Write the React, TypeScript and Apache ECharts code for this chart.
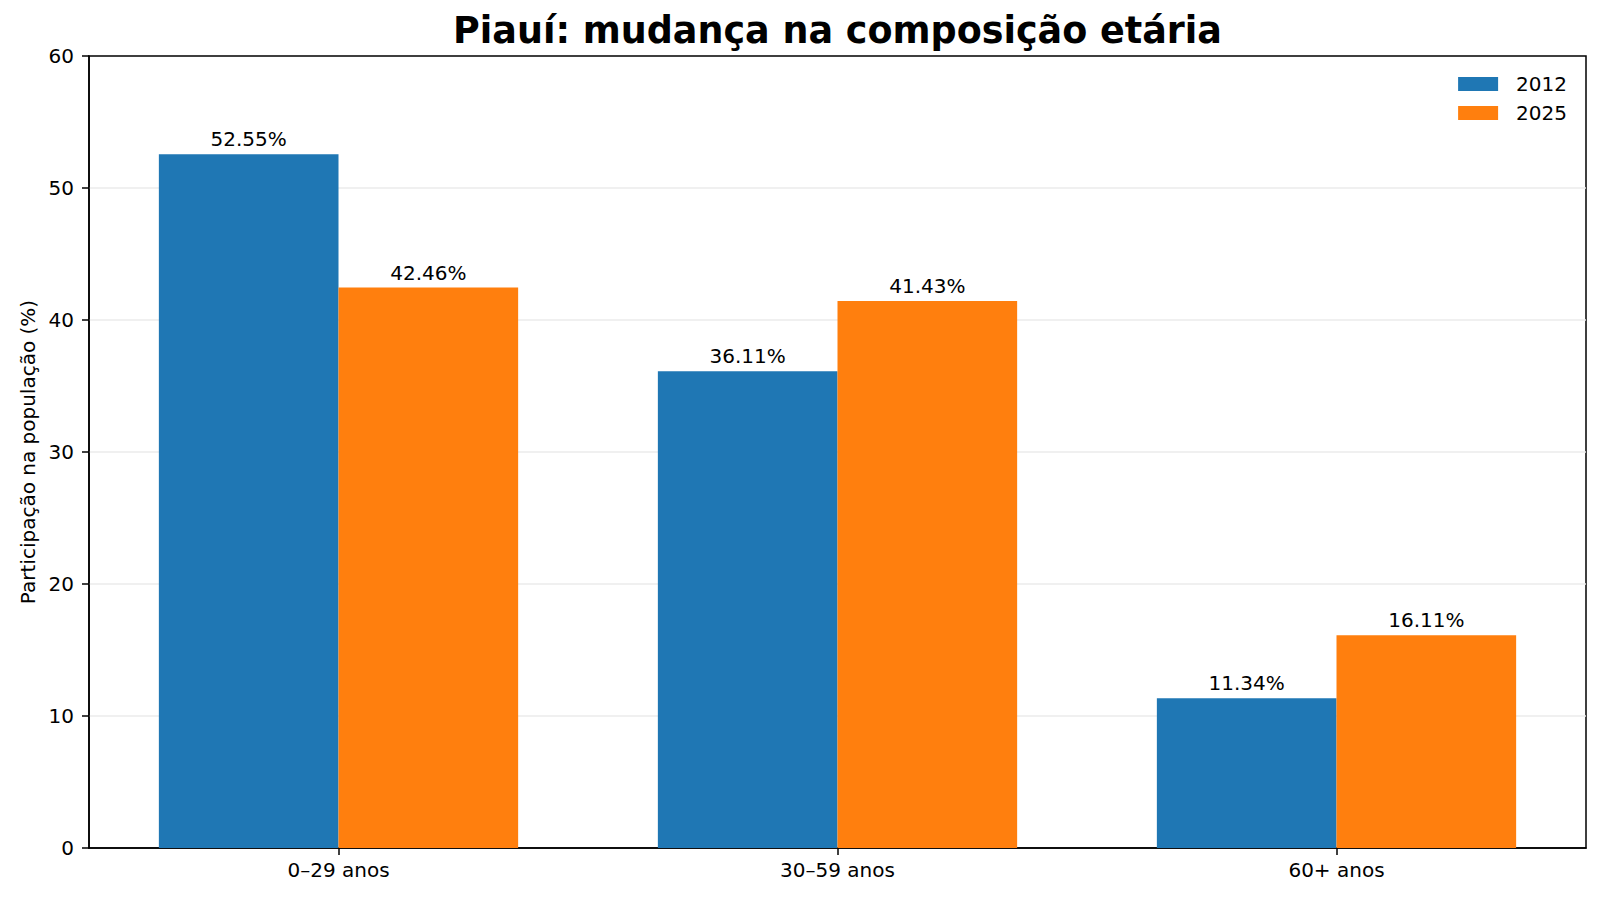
import React, { useEffect, useRef } from "react";
import * as echarts from "echarts";

const categories = ["0–29 anos", "30–59 anos", "60+ anos"];
const values2012 = [52.55, 36.11, 11.34];
const values2025 = [42.46, 41.43, 16.11];
const seriesNames = ["2012", "2025"];
const yTicks = { min: 0, max: 60, interval: 10 };
const titleText = "Piauí: mudança na composição etária";

const FONT = "DejaVu Sans";

export default function App() {
  const ref = useRef<HTMLDivElement>(null);
  useEffect(() => {
    document.body.style.margin = "0";
    if (!ref.current) return;
    const chart = echarts.init(ref.current, undefined, { renderer: "svg" });
    const labelStyle = {
      show: true,
      position: "top" as const,
      distance: 5,
      color: "#000",
      fontSize: 20,
      fontFamily: FONT,
      formatter: (p: any) => Number(p.value).toFixed(2) + "%",
    };
    const gridLeft = 89;
    const gridRight = 14;
    const W = 1600;
    chart.setOption({
      animation: false,
      backgroundColor: "#fff",
      graphic: [
        {
          type: "text",
          x: gridLeft + (W - gridLeft - gridRight) / 2,
          y: 12,
          style: {
            text: titleText,
            textAlign: "center",
            textVerticalAlign: "top",
            fontFamily: FONT,
            fontSize: 36.5,
            fontWeight: "bold",
            fill: "#000",
          },
        },
      ],
      legend: {
        orient: "vertical",
        right: 28,
        top: 69,
        icon: "rect",
        itemWidth: 40,
        itemHeight: 14,
        itemGap: 9,
        data: seriesNames,
        textStyle: { fontFamily: FONT, fontSize: 20, color: "#000", padding: [0, 0, 0, 13] },
      },
      grid: {
        left: gridLeft,
        right: gridRight,
        top: 56,
        bottom: 53,
        show: true,
        borderColor: "#000",
        borderWidth: 1.5,
        containLabel: false,
      },
      xAxis: {
        type: "category",
        data: categories,
        axisLine: { show: true, lineStyle: { color: "#000", width: 1.5 } },
        axisTick: { show: true, alignWithLabel: true, length: 7, lineStyle: { color: "#000", width: 1.5 } },
        axisLabel: { fontFamily: FONT, fontSize: 20, color: "#000", margin: 12 },
        splitLine: { show: false },
      },
      yAxis: {
        type: "value",
        min: yTicks.min,
        max: yTicks.max,
        interval: yTicks.interval,
        name: "Participação na população (%)",
        nameLocation: "middle",
        nameGap: 48,
        nameTextStyle: { fontFamily: FONT, fontSize: 20, color: "#000" },
        axisLine: { show: true, lineStyle: { color: "#000", width: 1.5 } },
        axisTick: { show: true, length: 7, lineStyle: { color: "#000", width: 1.5 } },
        axisLabel: { fontFamily: FONT, fontSize: 20, color: "#000", margin: 15 },
        splitLine: { show: true, showMaxLine: false, showMinLine: false, lineStyle: { color: "#ebebeb", width: 1.5 } },
      },
      series: [
        {
          name: seriesNames[0],
          type: "bar",
          data: values2012,
          barWidth: "36%",
          barGap: "0%",
          itemStyle: { color: "#1f77b4" },
          label: labelStyle,
        },
        {
          name: seriesNames[1],
          type: "bar",
          data: values2025,
          barWidth: "36%",
          barGap: "0%",
          itemStyle: { color: "#ff7f0e" },
          label: labelStyle,
        },
      ],
    });
    return () => chart.dispose();
  }, []);
  return <div ref={ref} style={{ width: 1600, height: 901 }} />;
}
